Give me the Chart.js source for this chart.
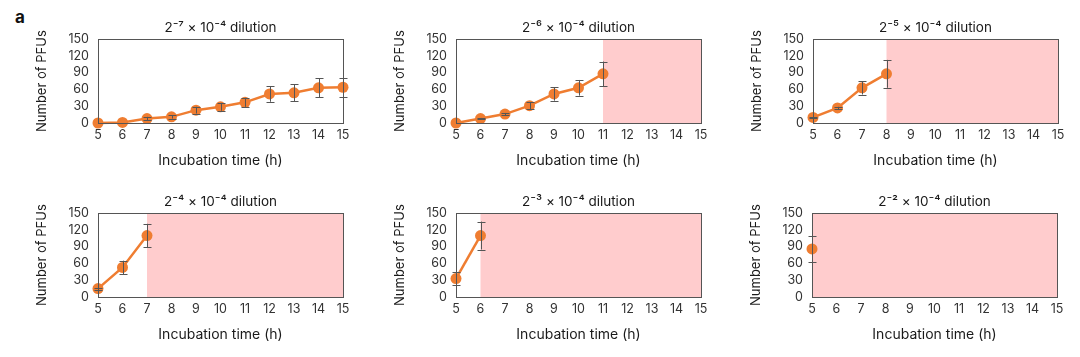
<!DOCTYPE html>
<html><head><meta charset="utf-8">
<script src="https://cdn.jsdelivr.net/npm/chart.js@4"></script>
<style>
html,body{margin:0;padding:0;background:#fff;}
body{width:1080px;height:357px;position:relative;overflow:hidden;}
.panel{position:absolute;width:360px;height:178px;}
#lab{position:absolute;left:15px;top:7px;font:bold 17px Inter, sans-serif;color:#111;}
</style></head><body>
<div id="lab">a</div>
<div class="panel" style="left:1.7px;top:0px"><canvas id="c0" width="360" height="178"></canvas></div>
<div class="panel" style="left:359.7px;top:0px"><canvas id="c1" width="360" height="178"></canvas></div>
<div class="panel" style="left:717.3px;top:0px"><canvas id="c2" width="360" height="178"></canvas></div>
<div class="panel" style="left:1.7px;top:174.3px"><canvas id="c3" width="360" height="178"></canvas></div>
<div class="panel" style="left:359.7px;top:174.3px"><canvas id="c4" width="360" height="178"></canvas></div>
<div class="panel" style="left:715.7px;top:174.3px"><canvas id="c5" width="360" height="178"></canvas></div>
<script>
// ---- data ----
const hours = [5, 6, 7, 8, 9, 10, 11, 12, 13, 14, 15];
const titles = ['2⁻⁷ × 10⁻⁴ dilution', '2⁻⁶ × 10⁻⁴ dilution', '2⁻⁵ × 10⁻⁴ dilution',
                '2⁻⁴ × 10⁻⁴ dilution', '2⁻³ × 10⁻⁴ dilution', '2⁻² × 10⁻⁴ dilution'];
const pfu7 = [0, 1, 8, 11, 23, 29, 37, 52, 54, 63, 64];
const err7 = [0, 0, 3, 3, 6, 7, 8, 14, 15, 17, 17];
const pfu6 = [0, 8, 16, 31, 52, 63, 88];
const err6 = [0, 1, 2, 6, 12, 14, 22];
const pfu5 = [10, 27, 63, 88];
const err5 = [1, 2, 12, 25];
const pfu4 = [15, 53, 110];
const err4 = [2, 12, 21];
const pfu3 = [33, 110];
const err3 = [12, 25];
const pfu2 = [86];
const err2 = [24];
const overgrownFrom = [null, 11, 8, 7, 6, 5];
const yTicks = [0, 30, 60, 90, 120, 150];

const seriesList = [pfu7, pfu6, pfu5, pfu4, pfu3, pfu2];
const errList = [err7, err6, err5, err4, err3, err2];

const ORANGE = '#EF7D31';
const FONT = 'Inter, "Liberation Sans", sans-serif';

const decor = {
  id: 'decor',
  beforeDatasetsDraw(chart, args, opts) {
    const {ctx, chartArea: a, scales: {x}} = chart;
    if (opts.shadeFrom != null) {
      const x0 = x.getPixelForValue(opts.shadeFrom);
      ctx.save();
      ctx.fillStyle = '#FFCCCD';
      ctx.fillRect(x0, a.top, a.right - x0, a.bottom - a.top);
      ctx.restore();
    }
  },
  afterDatasetsDraw(chart, args, opts) {
    const {ctx, scales: {x, y}} = chart;
    const vals = opts.values, errs = opts.errors;
    ctx.save();
    ctx.strokeStyle = '#555555';
    ctx.lineWidth = 1;
    for (let i = 0; i < vals.length; i++) {
      if (!errs[i]) continue;
      const px = Math.round(x.getPixelForValue(hours[i])) + 0.5;
      const top = y.getPixelForValue(vals[i] + errs[i]);
      const bot = y.getPixelForValue(Math.max(0, vals[i] - errs[i]));
      ctx.beginPath();
      ctx.moveTo(px, top); ctx.lineTo(px, bot);
      ctx.moveTo(px - 4, Math.round(top) + 0.5); ctx.lineTo(px + 4, Math.round(top) + 0.5);
      ctx.moveTo(px - 4, Math.round(bot) + 0.5); ctx.lineTo(px + 4, Math.round(bot) + 0.5);
      ctx.stroke();
    }
    ctx.restore();
  },
  afterDraw(chart) {
    const {ctx, chartArea: a} = chart;
    ctx.save();
    ctx.strokeStyle = '#555555';
    ctx.lineWidth = 1;
    ctx.strokeRect(Math.round(a.left) + 0.5, Math.round(a.top) + 0.5,
                   Math.round(a.right - a.left), Math.round(a.bottom - a.top));
    ctx.restore();
  }
};

seriesList.forEach((vals, k) => {
  const pts = vals.map((v, i) => ({x: hours[i], y: v}));
  new Chart(document.getElementById('c' + k), {
    type: 'line',
    data: {
      datasets: [{
        data: pts,
        borderColor: ORANGE,
        backgroundColor: ORANGE,
        borderWidth: 2.5,
        pointRadius: 5.5,
        pointBorderWidth: 0,
        pointBackgroundColor: ORANGE,
        tension: 0,
        clip: false
      }]
    },
    options: {
      responsive: false,
      animation: false,
      events: [],
      layout: {padding: {left: 0, right: 19, top: 0, bottom: 0}},
      plugins: {
        legend: {display: false},
        tooltip: {enabled: false},
        title: {
          display: true, fullSize: false, text: titles[k], color: '#1a1a1a',
          font: {family: FONT, size: 13.5, weight: 'normal'},
          padding: {top: 20, bottom: 3}
        },
        decor: {shadeFrom: overgrownFrom[k], values: vals, errors: errList[k]}
      },
      scales: {
        x: {
          type: 'linear', min: hours[0], max: hours[hours.length - 1],
          ticks: {stepSize: 1, autoSkip: false, maxRotation: 0, color: '#333', font: {family: FONT, size: 12.5}, padding: 5},
          grid: {display: false, drawTicks: false},
          border: {display: false},
          title: {display: true, text: 'Incubation time (h)', color: '#1a1a1a',
                  font: {family: FONT, size: 14}, padding: {top: 0, bottom: 8.6}},
          afterFit(s) { s.height = 55; }
        },
        y: {
          min: yTicks[0], max: yTicks[yTicks.length - 1],
          afterBuildTicks(s) { s.ticks = yTicks.map(v => ({value: v})); },
          ticks: {autoSkip: false, color: '#333', font: {family: FONT, size: 12.5}, padding: 9},
          grid: {display: false, drawTicks: false},
          border: {display: false},
          title: {display: true, text: 'Number of PFUs', color: '#1a1a1a',
                  font: {family: FONT, size: 13}, padding: {top: 32.5, bottom: 0}},
          afterFit(s) { s.width = 96; }
        }
      }
    },
    plugins: [decor]
  });
});
</script>
</body></html>
